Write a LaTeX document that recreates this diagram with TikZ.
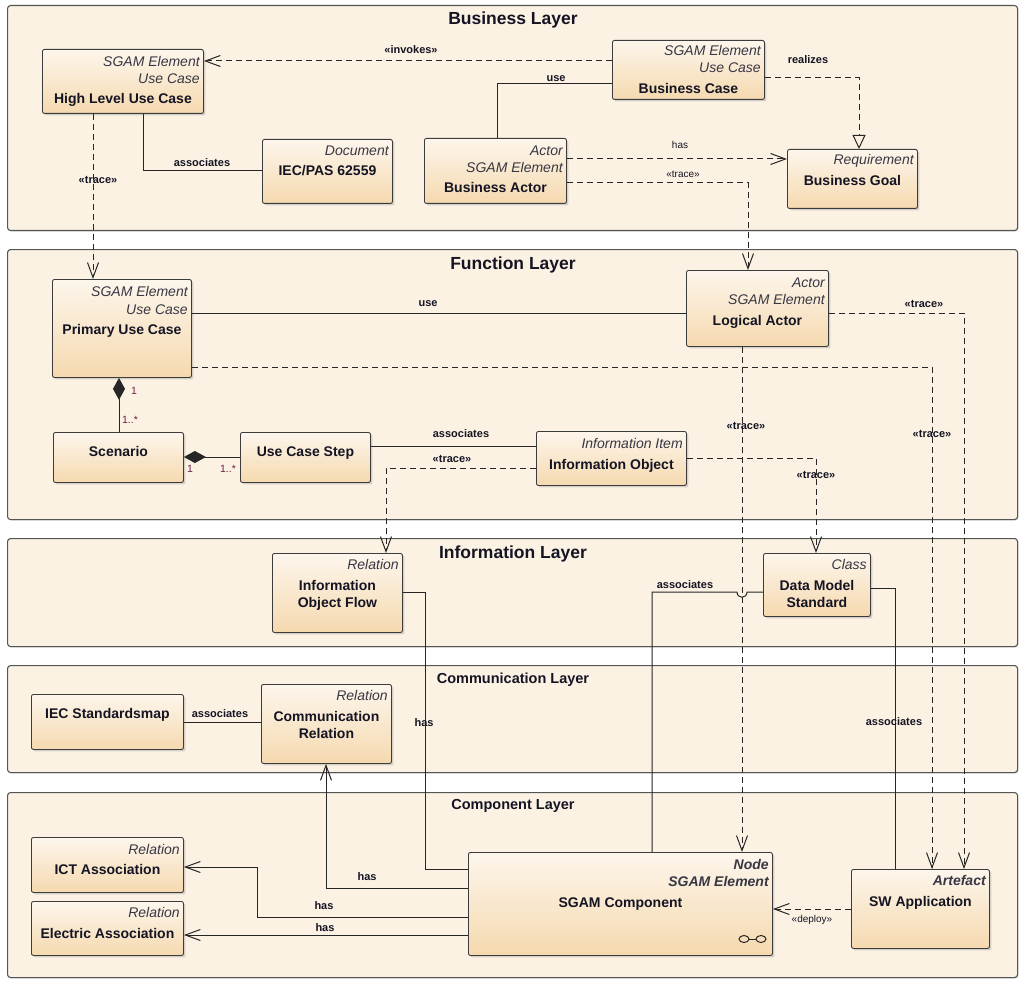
\documentclass[tikz,border=0pt]{standalone}
\usepackage{fontspec}
\setmainfont{Liberation Sans}
\usetikzlibrary{arrows.meta,shadows,calc}
\definecolor{layerfill}{RGB}{252,242,228}
\definecolor{layerdraw}{RGB}{85,85,85}
\definecolor{boxtop}{RGB}{253,246,236}
\definecolor{boxbot}{RGB}{245,217,175}
\definecolor{boxdraw}{RGB}{60,60,60}
\definecolor{txt}{RGB}{20,20,35}
\definecolor{multc}{RGB}{110,30,70}
\newcommand\bxst[4]{\node[stereo] (#1) at ($(#2.north east)+(-4,#3)$) {#4};}
\newcommand\bxstb[4]{\node[stereo,font=\fontsize{14}{16}\selectfont\bfseries\itshape] (#1) at ($(#2.north east)+(-4,#3)$) {#4};}
\newcommand\bxname[4]{\node[nm] (#1) at ($(#2.north)+(0,#3)$) {#4};}
\begin{document}
\begin{tikzpicture}[x=1pt,y=-1pt,
  layerbox/.style={draw=layerdraw, fill=layerfill, line width=1.1pt, rounded corners=3pt, anchor=north west, inner sep=0pt,
    drop shadow={shadow xshift=1pt,shadow yshift=-1pt,opacity=0.25}},
  umlbox/.style={draw=boxdraw, line width=0.9pt, rounded corners=2pt, top color=boxtop, bottom color=boxbot, anchor=north west, inner sep=0pt,
    drop shadow={shadow xshift=2pt,shadow yshift=-2pt,opacity=0.3}},
  stereo/.style={font=\fontsize{14}{16}\selectfont\itshape, text=txt!85, inner sep=0pt, anchor=base east},
  nm/.style={font=\fontsize{14}{16}\selectfont\bfseries, text=txt, inner sep=0pt, anchor=base},
  lbl/.style={font=\fontsize{11}{13}\selectfont\bfseries, text=txt, inner sep=0pt},
  lblr/.style={font=\fontsize{10}{12}\selectfont, text=txt, inner sep=0pt},
  mult/.style={font=\fontsize{10.5}{12}\selectfont, text=multc, inner sep=0pt},
  ltitle/.style={font=\fontsize{17.5}{20}\selectfont\bfseries, text=txt, anchor=base, inner sep=0pt},
  stitle/.style={font=\fontsize{14.5}{17}\selectfont\bfseries, text=txt, anchor=base, inner sep=0pt},
  conn/.style={draw=black!85, line width=1pt},
  dep/.style={conn, dash pattern=on 6pt off 4pt},
  openarr/.style={-{Straight Barb[length=15pt,width=11pt]}},
  realarr/.style={-{Triangle[open,length=14pt,width=13pt]}},
  comp/.style={{Diamond[length=22pt,width=12pt]}-}
]
\useasboundingbox (0,0) rectangle (1024,984);
\fill[white] (0,0) rectangle (1024,984);

% ---------- layers ----------
\node[layerbox, minimum width=1010pt, minimum height=225pt] (Lbus) at (7,5) {};
\node[layerbox, minimum width=1010pt, minimum height=270pt] (Lfun) at (7,249) {};
\node[layerbox, minimum width=1010pt, minimum height=108pt] (Linf) at (7,538) {};
\node[layerbox, minimum width=1010pt, minimum height=107pt] (Lcom) at (7,665) {};
\node[layerbox, minimum width=1010pt, minimum height=185pt] (Lcmp) at (7,792) {};
\node[ltitle] (Tbus) at (513,25) {Business Layer};
\node[ltitle] (Tfun) at (513,269) {Function Layer};
\node[ltitle] (Tinf) at (513,558) {Information Layer};
\node[stitle] (Tcom) at (513,683) {Communication Layer};
\node[stitle] (Tcmp) at (513,809) {Component Layer};

% ---------- boxes ----------
\node[umlbox, minimum width=161pt, minimum height=64pt] (hluc) at (42,49) {};
\node[umlbox, minimum width=152pt, minimum height=59pt] (bc) at (612,40) {};
\node[umlbox, minimum width=130pt, minimum height=64pt] (doc) at (262,139) {};
\node[umlbox, minimum width=142pt, minimum height=65pt] (ba) at (424,138) {};
\node[umlbox, minimum width=130pt, minimum height=59pt] (bg) at (787,149) {};
\node[umlbox, minimum width=139pt, minimum height=98pt] (puc) at (52,279) {};
\node[umlbox, minimum width=142pt, minimum height=76pt] (la) at (686,270) {};
\node[umlbox, minimum width=130pt, minimum height=50pt] (scen) at (53,432) {};
\node[umlbox, minimum width=130pt, minimum height=50pt] (ucs) at (240,432) {};
\node[umlbox, minimum width=150pt, minimum height=54pt] (io) at (536,431) {};
\node[umlbox, minimum width=130pt, minimum height=79pt] (iof) at (272,553) {};
\node[umlbox, minimum width=107pt, minimum height=63pt] (dms) at (763,553) {};
\node[umlbox, minimum width=152pt, minimum height=55pt] (iec) at (31,694) {};
\node[umlbox, minimum width=130pt, minimum height=79pt] (cr) at (261,684) {};
\node[umlbox, minimum width=152pt, minimum height=55pt] (ict) at (31,837) {};
\node[umlbox, minimum width=152pt, minimum height=54pt] (elec) at (31,901) {};
\node[umlbox, minimum width=304pt, minimum height=103pt] (sgam) at (468,852) {};
\node[umlbox, minimum width=138pt, minimum height=79pt] (sw) at (851,869) {};

% ---------- box texts ----------
\bxst{hluc-s1}{hluc}{18}{SGAM Element}
\bxst{hluc-s2}{hluc}{35}{Use Case}
\bxname{hluc-n}{hluc}{55}{High Level Use Case}
\bxst{bc-s1}{bc}{16}{SGAM Element}
\bxst{bc-s2}{bc}{33}{Use Case}
\bxname{bc-n}{bc}{54}{Business Case}
\bxst{doc-s1}{doc}{17}{Document}
\bxname{doc-n}{doc}{37}{IEC/PAS 62559}
\bxst{ba-s1}{ba}{18}{Actor}
\bxst{ba-s2}{ba}{35}{SGAM Element}
\bxname{ba-n}{ba}{55}{Business Actor}
\bxst{bg-s1}{bg}{16}{Requirement}
\bxname{bg-n}{bg}{37}{Business Goal}
\bxst{puc-s1}{puc}{17}{SGAM Element}
\bxst{puc-s2}{puc}{35}{Use Case}
\bxname{puc-n}{puc}{55}{Primary Use Case}
\bxst{la-s1}{la}{17}{Actor}
\bxst{la-s2}{la}{34}{SGAM Element}
\bxname{la-n}{la}{55}{Logical Actor}
\bxname{scen-n}{scen}{24}{Scenario}
\bxname{ucs-n}{ucs}{24}{Use Case Step}
\bxst{io-s1}{io}{17}{Information Item}
\bxname{io-n}{io}{38}{Information Object}
\bxst{iof-s1}{iof}{16}{Relation}
\bxname{iof-n1}{iof}{37}{Information}
\bxname{iof-n2}{iof}{54}{Object Flow}
\bxst{dms-s1}{dms}{16}{Class}
\bxname{dms-n1}{dms}{37}{Data Model}
\bxname{dms-n2}{dms}{54}{Standard}
\bxname{iec-n}{iec}{24}{IEC Standardsmap}
\bxst{cr-s1}{cr}{16}{Relation}
\bxname{cr-n1}{cr}{37}{Communication}
\bxname{cr-n2}{cr}{54}{Relation}
\bxst{ict-s1}{ict}{17}{Relation}
\bxname{ict-n}{ict}{37}{ICT Association}
\bxst{elec-s1}{elec}{16}{Relation}
\bxname{elec-n}{elec}{37}{Electric Association}
\bxstb{sgam-s1}{sgam}{17}{Node}
\bxstb{sgam-s2}{sgam}{34}{SGAM Element}
\bxname{sgam-n}{sgam}{55}{SGAM Component}
\bxstb{sw-s1}{sw}{16}{Artefact}
\bxname{sw-n}{sw}{37}{SW Application}
% node symbol
\draw[line width=1pt, draw=black!85] (744,939) ellipse (5 and 3.5);
\draw[line width=1pt, draw=black!85] (761,939) ellipse (5 and 3.5);
\draw[line width=1pt, draw=black!85] (749,939) -- (756,939);

% ---------- business connectors ----------
\draw[dep,openarr] (bc.west |- 0,61) -- (hluc.east |- 0,61);
\node[lbl] (l-invokes) at (411,50) {«invokes»};
\draw[conn] (ba.north -| 497,0) |- (bc.west |- 0,84);
\node[lbl] (l-use1) at (556,79) {use};
\draw[conn] (hluc.south -| 143,0) |- (doc.west |- 0,171);
\node[lbl] (l-assoc1) at (202,163) {associates};
\draw[dep,realarr] (bc.east |- 0,78) -| (bg.north -| 859,0);
\node[lbl] (l-realizes) at (808,60) {realizes};
\draw[dep,openarr] (ba.east |- 0,159) -- (bg.west |- 0,159);
\node[lblr] (l-has1) at (680,145) {has};
\draw[dep,openarr] (ba.east |- 0,183) -| (la.north -| 748,0);
\node[lblr] (l-trace1) at (683,174) {«trace»};
\draw[dep,openarr] (hluc.south -| 93,0) -- (puc.north -| 93,0);
\node[lbl] (l-trace2) at (98,180) {«trace»};

% ---------- function connectors ----------
\draw[conn] (puc.east |- 0,313) -- (la.west |- 0,313);
\node[lbl] (l-use2) at (428,304) {use};
\draw[dep,openarr] (puc.east |- 0,367) -| (sw.north -| 932,0);
\node[lbl] (l-trace3) at (932,434) {«trace»};
\draw[dep,openarr] (la.east |- 0,313) -| (sw.north -| 964,0);
\node[lbl] (l-trace4) at (924,304) {«trace»};
\draw[dep,openarr] (la.south -| 742,0) -- (sgam.north -| 742,0);
\node[lbl] (l-trace5) at (746,426) {«trace»};
\draw[conn,comp] (puc.south -| 119,0) -- (scen.north -| 119,0);
\node[mult] (m1) at (134,391) {1};
\node[mult] (m2) at (130,420) {1..*};
\draw[conn,comp] (scen.east |- 0,457) -- (ucs.west |- 0,457);
\node[mult] (m3) at (190,469) {1};
\node[mult] (m4) at (228,469) {1..*};
\draw[conn] (ucs.east |- 0,446) -- (io.west |- 0,446);
\node[lbl] (l-assoc2) at (461,434) {associates};
\draw[dep,openarr] (io.west |- 0,468) -| (iof.north -| 386,0);
\node[lbl] (l-trace6) at (452,459) {«trace»};
\draw[dep,openarr] (io.east |- 0,458) -| (dms.north -| 816,0);
\node[lbl] (l-trace7) at (816,475) {«trace»};

% ---------- information / communication / component connectors ----------
\draw[conn] (iof.east |- 0,592) -| (425,869) -- (sgam.west |- 0,869);
\node[lbl] (l-has2) at (424,723) {has};
\draw[conn] (sgam.north -| 652,0) |- (737,592) .. controls (737,599) and (747,599) .. (747,592) -- (dms.west |- 0,592);
\node[lbl] (l-assoc3) at (685,585) {associates};
\draw[conn] (dms.east |- 0,588) -| (sw.north -| 895,0);
\node[lbl] (l-assoc4) at (894,722) {associates};
\draw[conn] (iec.east |- 0,722) -- (cr.west |- 0,722);
\node[lbl] (l-assoc5) at (220,714) {associates};
\draw[conn,openarr] (sgam.west |- 0,888) -| (cr.south -| 326,0);
\node[lbl] (l-has3) at (367,877) {has};
\draw[conn,openarr] (sgam.west |- 0,917) -| (257,867) -- (ict.east |- 0,867);
\node[lbl] (l-has4) at (324,906) {has};
\draw[conn,openarr] (sgam.west |- 0,935) -- (elec.east |- 0,935);
\node[lbl] (l-has5) at (325,928) {has};
\draw[dep,openarr] (sw.west |- 0,909) -- (sgam.east |- 0,909);
\node[lblr] (l-deploy) at (812,920) {«deploy»};
\end{tikzpicture}
\end{document}
